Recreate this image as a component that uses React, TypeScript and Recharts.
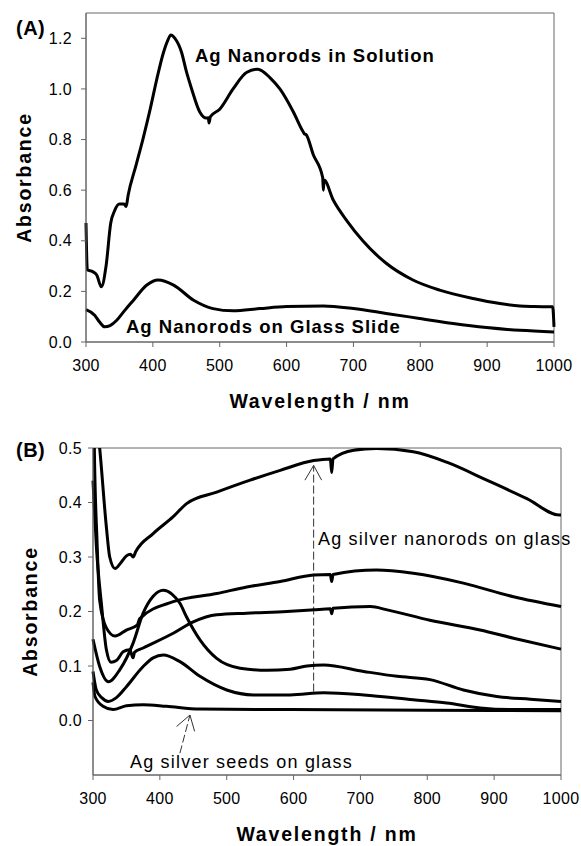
import React from 'react';
import {
  LineChart,
  Line,
  XAxis,
  YAxis,
  ReferenceArea,
  ReferenceLine,
  Label,
} from 'recharts';

// (A) silver nanorods, solution vs glass slide
const solWl = [300, 302, 310, 316, 323, 330, 337, 343, 350, 357, 360, 363, 375, 385, 396, 406, 416, 422, 427, 433, 443, 450, 458, 470, 480, 483, 484, 486, 500, 520, 540, 557, 575, 590, 610, 625, 627, 629, 640, 654, 655, 656, 670, 690, 714, 749, 789, 829, 879, 919, 949, 970, 994, 998, 1000];
const solAbs = [0.47, 0.285, 0.278, 0.265, 0.218, 0.3, 0.47, 0.52, 0.545, 0.545, 0.535, 0.58, 0.7, 0.8, 0.92, 1.04, 1.145, 1.19, 1.213, 1.2, 1.144, 1.07, 1.0, 0.91, 0.885, 0.886, 0.865, 0.89, 0.92, 1.0, 1.065, 1.078, 1.045, 1.0, 0.91, 0.83, 0.822, 0.82, 0.74, 0.65, 0.6, 0.64, 0.56, 0.48, 0.4, 0.311, 0.245, 0.205, 0.172, 0.152, 0.142, 0.14, 0.139, 0.139, 0.06];

const glassWl = [300, 313, 320, 328, 336, 346, 358, 371, 391, 408, 431, 461, 490, 520, 560, 600, 655, 700, 749, 799, 849, 899, 949, 1000];
const glassAbs = [0.128, 0.106, 0.08, 0.06, 0.065, 0.086, 0.125, 0.165, 0.225, 0.245, 0.225, 0.165, 0.132, 0.123, 0.132, 0.14, 0.142, 0.132, 0.113, 0.093, 0.073, 0.057, 0.046, 0.04];

// (B) growth series on glass
const b1Wl = [300, 305, 310, 320, 325, 333, 342, 350, 356, 360, 364, 390, 420, 440, 485, 535, 580, 630, 655, 657, 659, 690, 724, 779, 829, 889, 949, 998, 1000];
const b1Abs = [0.62, 0.56, 0.5, 0.355, 0.3, 0.279, 0.29, 0.302, 0.305, 0.3, 0.31, 0.343, 0.374, 0.398, 0.419, 0.441, 0.459, 0.477, 0.48, 0.455, 0.48, 0.496, 0.499, 0.493, 0.474, 0.441, 0.407, 0.377, 0.377];

const b2Wl = [300, 302, 306, 310, 320, 333, 350, 366, 370, 420, 485, 530, 580, 630, 655, 657, 659, 724, 779, 854, 929, 1000];
const b2Abs = [0.7, 0.5, 0.33, 0.22, 0.17, 0.155, 0.166, 0.175, 0.187, 0.218, 0.233, 0.245, 0.255, 0.267, 0.268, 0.255, 0.268, 0.276, 0.27, 0.252, 0.227, 0.209];

const b3Wl = [300, 305, 313, 320, 327, 335, 345, 355, 360, 362, 375, 420, 450, 485, 530, 590, 630, 655, 657, 659, 715, 740, 804, 879, 929, 1000];
const b3Abs = [0.44, 0.32, 0.209, 0.13, 0.107, 0.11, 0.126, 0.13, 0.115, 0.125, 0.133, 0.16, 0.181, 0.194, 0.197, 0.2, 0.203, 0.205, 0.196, 0.206, 0.209, 0.203, 0.184, 0.166, 0.151, 0.131];

const b4Wl = [300, 310, 323, 340, 360, 375, 390, 405, 418, 430, 440, 460, 485, 520, 560, 595, 620, 645, 705, 755, 804, 854, 904, 954, 1000];
const b4Abs = [0.149, 0.099, 0.071, 0.093, 0.142, 0.197, 0.228, 0.239, 0.232, 0.215, 0.19, 0.148, 0.114, 0.096, 0.092, 0.094, 0.1, 0.102, 0.09, 0.081, 0.075, 0.056, 0.044, 0.039, 0.035];

const b5Wl = [300, 305, 313, 323, 335, 350, 375, 390, 405, 430, 460, 500, 540, 595, 645, 705, 779, 829, 879, 929, 1000];
const b5Abs = [0.09, 0.056, 0.042, 0.035, 0.042, 0.062, 0.099, 0.115, 0.12, 0.108, 0.081, 0.056, 0.047, 0.047, 0.051, 0.047, 0.038, 0.032, 0.023, 0.02, 0.02];

const seedWl = [300, 303, 315, 330, 350, 375, 410, 460, 595, 800, 1000];
const seedAbs = [0.07, 0.044, 0.026, 0.02, 0.027, 0.029, 0.026, 0.021, 0.02, 0.019, 0.018];

const wlTicks = [300, 400, 500, 600, 700, 800, 900, 1000];
const absTicksA = [0, 0.2, 0.4, 0.6, 0.8, 1.0, 1.2];
const absTicksB = [0, 0.1, 0.2, 0.3, 0.4, 0.5];

const pts = (xs: number[], ys: number[]) => xs.map((x, i) => ({ x, y: ys[i] }));

const axisColor = '#666';
const tickStyle = { fill: '#000', fontSize: 16, letterSpacing: 0.3 };
const titleStyle = { fontWeight: 'bold', fontSize: 19.5, letterSpacing: 1.8, fill: '#000' };
const dash = '8 3';

function Curve({ data }: { data: { x: number; y: number }[] }) {
  return (
    <Line
      data={data}
      dataKey="y"
      type="monotone"
      stroke="#000"
      strokeWidth={3}
      dot={false}
      isAnimationActive={false}
    />
  );
}

export default function App() {
  const annoBold = { fontWeight: 'bold', fontSize: 18.5, letterSpacing: 1 };
  const annoReg = { fontSize: 18, letterSpacing: 1.2 };
  return (
    <div
      style={{
        position: 'absolute',
        left: 0,
        top: 0,
        width: 581,
        height: 846,
        background: '#fff',
        fontFamily: '"Liberation Sans", Arial, sans-serif',
      }}
    >
      <LineChart width={581} height={415} margin={{ top: 13, right: 27, bottom: 0, left: 0 }}>
        <XAxis
          dataKey="x"
          type="number"
          domain={[300, 1000]}
          ticks={wlTicks}
          height={73}
          stroke={axisColor}
          tickSize={5}
          tickMargin={13}
          tick={tickStyle}
        >
          <Label value="Wavelength / nm" position="insideBottom" offset={7} style={titleStyle} />
        </XAxis>
        <YAxis
          type="number"
          domain={[0, 1.3]}
          ticks={absTicksA}
          width={86}
          stroke={axisColor}
          tickSize={5}
          tickMargin={9}
          tick={tickStyle}
          tickFormatter={(v: number) => v.toFixed(1)}
        >
          <Label
            value="Absorbance"
            angle={-90}
            position="insideLeft"
            offset={24}
            style={{ ...titleStyle, textAnchor: 'middle' }}
          />
        </YAxis>
        <ReferenceArea x1={300} x2={1000} y1={0} y2={1.3} fill="none" stroke={axisColor} />
        <Curve data={pts(solWl, solAbs)} />
        <Curve data={pts(glassWl, glassAbs)} />
      </LineChart>

      <div style={{ position: 'absolute', left: 0, top: 415 }}>
        <LineChart width={581} height={431} margin={{ top: 33, right: 20, bottom: 0, left: 0 }}>
          <XAxis
            dataKey="x"
            type="number"
            domain={[300, 1000]}
            ticks={wlTicks}
            height={71}
            stroke={axisColor}
            tickSize={5}
            tickMargin={13}
            tick={tickStyle}
          >
            <Label value="Wavelength / nm" position="insideBottom" offset={5} style={titleStyle} />
          </XAxis>
          <YAxis
            type="number"
            domain={[-0.1, 0.5]}
            allowDataOverflow
            ticks={absTicksB}
            width={93}
            stroke={axisColor}
            tickSize={5}
            tickMargin={6}
            tick={tickStyle}
            tickFormatter={(v: number) => v.toFixed(1)}
          >
            <Label
              value="Absorbance"
              angle={-90}
              position="insideLeft"
              offset={30}
              style={{ ...titleStyle, textAnchor: 'middle' }}
            />
          </YAxis>
          <ReferenceArea x1={300} x2={1000} y1={-0.1} y2={0.5} fill="none" stroke={axisColor} />
          <ReferenceLine segment={[{ x: 630, y: 0.053 }, { x: 630, y: 0.468 }]} stroke="#333" strokeDasharray={dash} />
          <ReferenceLine segment={[{ x: 617, y: 0.441 }, { x: 630, y: 0.468 }]} stroke="#333" />
          <ReferenceLine segment={[{ x: 642, y: 0.441 }, { x: 630, y: 0.468 }]} stroke="#333" />
          <ReferenceLine segment={[{ x: 430, y: -0.06 }, { x: 445, y: 0.01 }]} stroke="#333" strokeDasharray={dash} />
          <ReferenceLine segment={[{ x: 425, y: -0.011 }, { x: 445, y: 0.01 }]} stroke="#333" />
          <ReferenceLine segment={[{ x: 452, y: -0.02 }, { x: 445, y: 0.01 }]} stroke="#333" />
          <Curve data={pts(b1Wl, b1Abs)} />
          <Curve data={pts(b2Wl, b2Abs)} />
          <Curve data={pts(b3Wl, b3Abs)} />
          <Curve data={pts(b4Wl, b4Abs)} />
          <Curve data={pts(b5Wl, b5Abs)} />
          <Curve data={pts(seedWl, seedAbs)} />
        </LineChart>
      </div>

      <svg
        width={581}
        height={846}
        style={{ position: 'absolute', left: 0, top: 0, pointerEvents: 'none', overflow: 'visible' }}
      >
        <text x={16} y={35} fontWeight="bold" fontSize={20} letterSpacing={0.5}>(A)</text>
        <text x={16} y={457} fontWeight="bold" fontSize={20} letterSpacing={0.5}>(B)</text>
        <text x={195} y={62} style={annoBold}>Ag Nanorods in Solution</text>
        <text x={126} y={333} style={annoBold}>Ag Nanorods on Glass Slide</text>
        <text x={318} y={545} style={annoReg}>Ag silver nanorods on glass</text>
        <text x={130} y={768} style={annoReg}>Ag silver seeds on glass</text>
      </svg>
    </div>
  );
}
